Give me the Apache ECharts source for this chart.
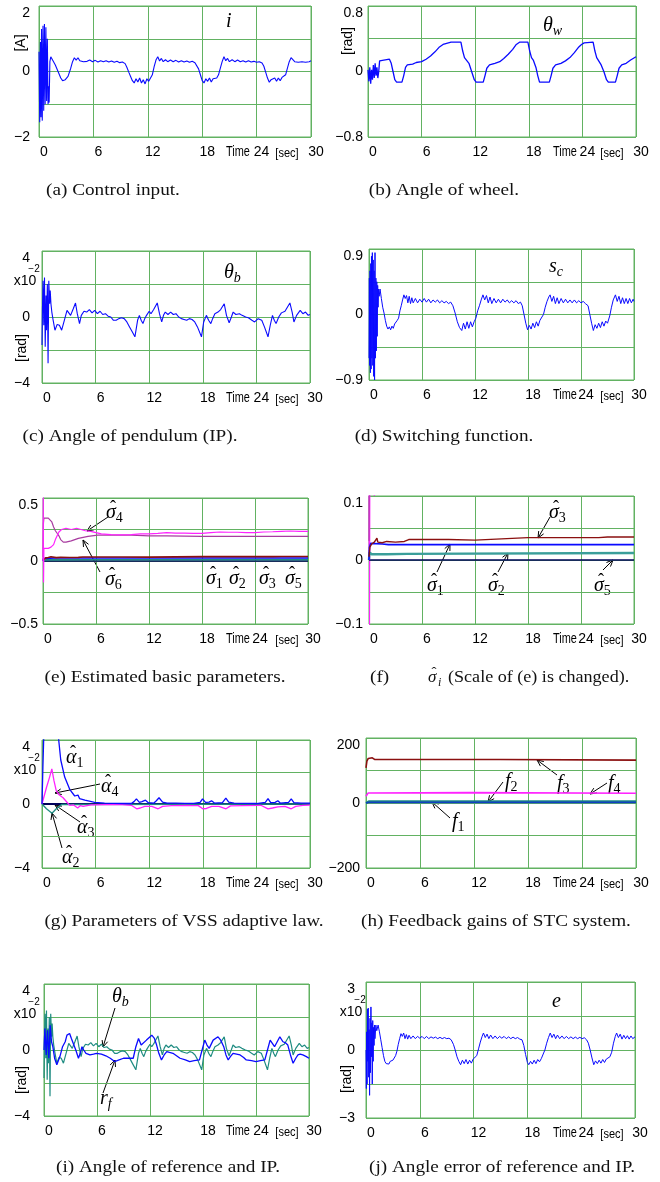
<!DOCTYPE html>
<html><head><meta charset="utf-8">
<script src="https://cdn.jsdelivr.net/npm/echarts@6/dist/echarts.min.js"></script>
<style>html,body{margin:0;padding:0;background:#fff}#c{width:660px;height:1182px}</style>
</head><body><div id="c"></div>
<script>
// ---------------- data (time [s], value) ----------------
const xTickLabels = ['0','6','12','18','24','30'];
const yLabA = ['2','0','\u22122'];
const yLabB = ['0.8','0','\u22120.8'];
const yLabC = ['4','0','\u22124'];
const yLabD = ['0.9','0','\u22120.9'];
const yLabE = ['0.5','0','\u22120.5'];
const yLabF = ['0.1','0','\u22120.1'];
const yLabG = ['4','0','\u22124'];
const yLabH = ['200','0','\u2212200'];
const yLabI = ['4','0','\u22124'];
const yLabJ = ['3','0','\u22123'];
const yLimits = [[-2,2,1],[-0.8,0.8,0.4],[-4,4,2],[-0.9,0.9,0.45],[-0.5,0.5,0.25],[-0.1,0.1,0.05],[-4,4,2],[-200,200,100],[-4,4,2],[-3,3,1.5]];

// (a) control input i [A]
const iA = [[0,0.6],[0.08,-1.55],[0.16,0.9],[0.22,-1.4],[0.28,1.3],[0.36,-1.5],[0.44,1.4],[0.52,-1.2],[0.6,1.45],[0.68,-1.0],[0.76,1.35],[0.84,-0.9],[0.92,1.0],[1.0,-1.0],[1.06,-0.45],[1.12,-0.95],[1.2,0.3],[1.3,0.45],[1.5,0.4],[1.8,0.2],[2.1,0.0],[2.4,-0.2],[2.6,-0.28],[2.9,-0.25],[3.2,-0.15],[3.5,0.1],[3.7,0.3],[3.9,0.42],[4.1,0.35],[4.3,0.42],[4.5,0.33],[4.7,0.38],[4.9,0.3],[5.1,0.36],[5.3,0.31],[5.6,0.35],[5.9,0.3],[6.2,0.34],[6.5,0.29],[6.8,0.33],[7.1,0.3],[7.4,0.33],[7.7,0.29],[8.0,0.32],[8.3,0.28],[8.6,0.31],[8.9,0.27],[9.2,0.29],[9.5,0.24],[9.7,0.12],[9.9,-0.02],[10.1,-0.15],[10.3,-0.28],[10.5,-0.35],[10.7,-0.22],[10.9,-0.32],[11.1,-0.2],[11.3,-0.35],[11.5,-0.25],[11.7,-0.38],[11.9,-0.22],[12.1,-0.3],[12.3,-0.25],[12.5,-0.1],[12.7,0.15],[12.9,0.35],[13.1,0.45],[13.3,0.32],[13.5,0.4],[13.7,0.3],[13.95,0.36],[14.2,0.3],[14.5,0.35],[14.8,0.3],[15.1,0.34],[15.4,0.29],[15.7,0.33],[16.0,0.29],[16.3,0.32],[16.6,0.28],[16.9,0.31],[17.2,0.27],[17.4,0.22],[17.6,0.08],[17.8,-0.1],[18.0,-0.28],[18.2,-0.35],[18.4,-0.22],[18.6,-0.3],[18.8,-0.2],[19.0,-0.32],[19.2,-0.22],[19.4,-0.28],[19.6,-0.2],[19.8,-0.1],[20.0,0.1],[20.2,0.3],[20.4,0.45],[20.6,0.33],[20.8,0.4],[21.0,0.3],[21.3,0.36],[21.6,0.3],[21.9,0.35],[22.2,0.3],[22.5,0.33],[22.8,0.29],[23.1,0.33],[23.4,0.29],[23.7,0.31],[24.0,0.28],[24.3,0.3],[24.6,0.26],[24.8,0.16],[25.0,-0.02],[25.2,-0.2],[25.4,-0.33],[25.6,-0.25],[25.8,-0.3],[26.0,-0.2],[26.2,-0.3],[26.4,-0.2],[26.6,-0.28],[26.8,-0.18],[27.0,-0.22],[27.2,-0.1],[27.4,0.1],[27.6,0.3],[27.8,0.42],[28.0,0.38],[28.2,0.3],[28.4,0.36],[28.6,0.28],[28.8,0.34],[29.0,0.3],[29.2,0.36],[29.4,0.28],[29.6,0.34],[29.8,0.3],[30,0.33]];

// (b) wheel angle theta_w [rad]
const thetaW = [[0,0.02],[0.1,-0.12],[0.2,0.05],[0.3,-0.15],[0.4,0.02],[0.5,-0.1],[0.6,0.08],[0.7,-0.08],[0.8,0.1],[0.9,-0.05],[1.0,0.05],[1.1,-0.08],[1.2,0.0],[1.3,0.13],[1.5,0.15],[2.4,0.15],[2.6,0.1],[2.8,0.0],[3.0,-0.1],[3.2,-0.13],[3.8,-0.13],[4.0,-0.05],[4.2,0.05],[4.4,0.08],[5.0,0.09],[5.4,0.11],[6.0,0.12],[6.5,0.15],[7.0,0.19],[7.5,0.24],[8.0,0.3],[8.4,0.33],[9.0,0.35],[9.3,0.36],[10.4,0.36],[10.6,0.25],[10.8,0.17],[11.0,0.15],[11.3,0.1],[11.6,0.0],[11.9,-0.1],[12.1,-0.13],[12.9,-0.13],[13.1,-0.05],[13.3,0.04],[13.6,0.08],[14.2,0.1],[14.75,0.12],[15.2,0.16],[15.7,0.21],[16.2,0.27],[16.6,0.33],[17.0,0.36],[17.9,0.36],[18.1,0.25],[18.3,0.17],[18.5,0.14],[18.8,0.05],[19.0,-0.05],[19.2,-0.13],[20.3,-0.13],[20.5,-0.05],[20.7,0.04],[21.0,0.08],[21.6,0.1],[22.1,0.13],[22.6,0.17],[23.1,0.23],[23.6,0.3],[23.9,0.33],[24.2,0.35],[24.4,0.36],[25.2,0.36],[25.4,0.25],[25.6,0.17],[25.8,0.15],[26.1,0.08],[26.4,0.0],[26.7,-0.1],[26.9,-0.13],[27.7,-0.13],[27.9,-0.05],[28.1,0.04],[28.4,0.08],[28.9,0.1],[29.4,0.14],[30,0.18]];

// (c)/(i) pendulum angle theta_b [x10^-2 rad]
const thetaB = [[0,-1.7],[0.05,0.5],[0.12,2.2],[0.2,-0.5],[0.28,2.4],[0.36,-1.8],[0.45,1.3],[0.5,-0.8],[0.6,2.0],[0.68,-2.8],[0.76,2.2],[0.85,0.8],[0.92,1.6],[1.0,0.8],[1.1,0.3],[1.25,-0.2],[1.45,-0.8],[1.7,-0.45],[1.95,-0.5],[2.2,-0.8],[2.5,-0.2],[2.8,0.4],[3.0,0.3],[3.2,0.1],[3.5,0.5],[3.75,0.85],[3.95,0.2],[4.2,-0.4],[4.4,0.1],[4.7,0.35],[5.0,0.3],[5.3,0.45],[5.6,0.25],[5.9,0.4],[6.2,0.2],[6.5,0.35],[6.8,0.15],[7.1,0.2],[7.4,0.05],[7.7,0.0],[8.0,-0.2],[8.3,-0.2],[8.6,-0.1],[8.9,-0.05],[9.2,-0.1],[9.5,-0.3],[9.8,-0.6],[10.1,-0.9],[10.4,-1.2],[10.7,-0.2],[10.9,0.1],[11.1,-0.2],[11.3,-0.4],[11.5,-0.1],[11.7,0.1],[12.0,0.35],[12.2,0.2],[12.5,0.45],[12.9,0.85],[13.15,0.2],[13.4,-0.3],[13.6,0.1],[13.8,0.3],[14.1,0.15],[14.4,0.3],[14.7,0.15],[15.0,0.2],[15.3,0.0],[15.6,-0.1],[15.9,-0.15],[16.2,-0.2],[16.5,-0.1],[16.8,-0.15],[17.1,-0.3],[17.4,-0.6],[17.85,-1.2],[18.1,-0.3],[18.4,0.1],[18.65,-0.2],[18.9,-0.4],[19.1,-0.1],[19.35,0.2],[19.7,0.3],[20.0,0.45],[20.4,0.8],[20.65,0.1],[20.95,-0.35],[21.2,0.0],[21.4,0.3],[21.7,0.15],[22.1,0.2],[22.4,0.1],[22.8,0.0],[23.1,-0.05],[23.5,-0.2],[23.8,-0.3],[24.2,-0.1],[24.6,-0.2],[24.9,-0.6],[25.3,-1.2],[25.55,-0.5],[25.8,0.1],[26.0,-0.2],[26.2,-0.4],[26.5,0.0],[26.8,0.25],[27.2,0.35],[27.75,0.85],[28.0,0.3],[28.2,-0.3],[28.5,0.1],[28.9,0.4],[29.2,0.2],[29.5,0.3],[29.8,0.1],[30,0.15]];

// (d) switching function s_c
const sC = [[0,-0.6],[0.04,0.5],[0.08,-0.7],[0.12,0.6],[0.16,-0.8],[0.2,0.7],[0.24,-0.75],[0.28,0.8],[0.33,-0.6],[0.38,0.85],[0.43,-0.7],[0.48,0.75],[0.53,-0.85],[0.58,0.6],[0.63,-0.9],[0.68,0.85],[0.73,-0.6],[0.78,0.5],[0.83,-0.5],[0.88,0.45],[0.93,-0.3],[0.98,0.4],[1.03,0.1],[1.08,0.35],[1.15,0.25],[1.25,0.35],[1.4,0.22],[1.55,0.1],[1.7,0.02],[1.85,-0.08],[2.0,-0.16],[2.15,-0.2],[2.3,-0.17],[2.45,-0.21],[2.6,-0.16],[2.75,-0.19],[2.9,-0.13],[3.05,-0.14],[3.2,-0.08],[3.35,-0.05],[3.5,0.05],[3.65,0.12],[3.8,0.2],[3.95,0.27],[4.1,0.22],[4.25,0.26],[4.4,0.16],[4.55,0.25],[4.7,0.15],[4.85,0.23],[5.0,0.16],[5.25,0.22],[5.5,0.16],[5.75,0.21],[6.0,0.17],[6.25,0.22],[6.5,0.17],[6.75,0.21],[7.0,0.16],[7.25,0.2],[7.5,0.17],[7.75,0.2],[8.0,0.16],[8.25,0.19],[8.5,0.16],[8.75,0.18],[9.0,0.15],[9.25,0.17],[9.5,0.12],[9.75,0.02],[10.0,-0.1],[10.25,-0.18],[10.5,-0.22],[10.7,-0.12],[10.9,-0.2],[11.1,-0.1],[11.3,-0.19],[11.5,-0.1],[11.7,-0.17],[11.9,-0.1],[12.1,-0.05],[12.3,0.05],[12.5,0.12],[12.7,0.2],[12.9,0.27],[13.1,0.2],[13.3,0.26],[13.5,0.16],[13.7,0.24],[13.9,0.15],[14.15,0.22],[14.4,0.16],[14.65,0.21],[14.9,0.16],[15.15,0.21],[15.4,0.17],[15.65,0.2],[15.9,0.16],[16.15,0.19],[16.4,0.16],[16.65,0.19],[16.9,0.15],[17.15,0.17],[17.35,0.12],[17.55,0.0],[17.75,-0.12],[17.95,-0.21],[18.15,-0.15],[18.35,-0.2],[18.55,-0.12],[18.75,-0.18],[18.95,-0.1],[19.15,-0.16],[19.35,-0.08],[19.55,-0.1],[19.75,0.0],[19.95,0.1],[20.15,0.18],[20.35,0.24],[20.5,0.27],[20.7,0.18],[20.9,0.25],[21.1,0.15],[21.3,0.23],[21.5,0.15],[21.75,0.22],[22.0,0.16],[22.25,0.21],[22.5,0.16],[22.75,0.2],[23.0,0.16],[23.25,0.2],[23.5,0.16],[23.75,0.19],[24.0,0.16],[24.25,0.18],[24.5,0.15],[24.8,0.12],[25.0,0.0],[25.2,-0.12],[25.4,-0.22],[25.6,-0.14],[25.8,-0.19],[26.0,-0.12],[26.2,-0.18],[26.4,-0.1],[26.6,-0.16],[26.8,-0.09],[27.0,-0.12],[27.25,-0.02],[27.45,0.1],[27.65,0.2],[27.9,0.27],[28.1,0.18],[28.3,0.25],[28.5,0.15],[28.7,0.23],[28.9,0.15],[29.1,0.22],[29.3,0.15],[29.5,0.22],[29.7,0.16],[29.9,0.21],[30,0.18]];

// (e)/(f) estimated basic parameters sigma_1..sigma_6
const sigma1 = [[0,0],[0.05,0.02],[0.2,0.026],[1.5,0.025],[2.2,0.024],[30,0.024]];
const sigma2 = [[0,0],[0.05,0.012],[0.3,0.009],[2.0,0.009],[4.3,0.0095],[4.5,0.011],[30,0.011]];
const sigma3 = [[0,0.005],[0.1,0.02],[0.3,0.025],[0.6,0.028],[0.8,0.03],[0.9,0.034],[1.0,0.028],[1.5,0.027],[2.0,0.029],[3.0,0.028],[4.0,0.029],[4.5,0.032],[6.0,0.032],[9.0,0.032],[12.0,0.031],[15.0,0.033],[18.0,0.035],[22.0,0.035],[26.0,0.035],[27.0,0.036],[30,0.036]];
const sigma4 = [[0,0],[0.03,0.52],[0.06,-0.17],[0.1,0.1],[0.3,0.11],[0.6,0.1],[0.9,0.11],[1.2,0.13],[1.4,0.17],[1.6,0.2],[1.8,0.23],[2.1,0.25],[2.6,0.26],[3.2,0.25],[3.8,0.26],[4.3,0.25],[4.8,0.24],[5.4,0.235],[6.0,0.225],[6.6,0.215],[7.7,0.21],[9.0,0.208],[10.0,0.21],[11.0,0.215],[12.0,0.216],[13.0,0.22],[14.0,0.225],[15.0,0.222],[16.0,0.222],[17.0,0.22],[18.0,0.22],[19.0,0.225],[20.0,0.23],[21.0,0.228],[22.0,0.228],[23.0,0.225],[24.0,0.225],[25.0,0.23],[26.0,0.232],[27.0,0.235],[28.0,0.238],[29.0,0.235],[30,0.235]];
const sigma5 = [[0,0],[30,0]];
const sigma6 = [[0,0.03],[0.05,0.3],[0.1,0.34],[0.3,0.35],[0.6,0.34],[0.8,0.33],[1.0,0.31],[1.2,0.27],[1.4,0.24],[1.6,0.22],[1.8,0.2],[2.0,0.17],[2.3,0.15],[2.6,0.15],[3.2,0.16],[4.0,0.18],[5.1,0.195],[6.2,0.205],[8.0,0.205],[10.0,0.205],[12.0,0.2],[14.0,0.2],[16.0,0.198],[18.0,0.195],[30,0.195]];

// (g) VSS adaptive law parameters alpha_1..alpha_4 [x10^-2]
const alpha1 = [[0,0],[0.1,2.3],[0.2,4.3],[0.4,7],[1.0,9],[1.5,7],[1.87,4.0],[2.1,2.75],[2.54,1.68],[3.1,0.92],[3.66,0.5],[4.03,0.56],[4.2,0.34],[4.8,0.24],[5.9,0.1],[7,0.06],[8,0.04],[9,0.03],[10,0.03],[10.3,0.15],[10.57,0.32],[10.9,0.1],[11.2,0.15],[11.58,0.24],[11.9,0.08],[12.5,0.05],[12.8,0.2],[13.1,0.39],[13.5,0.12],[14,0.06],[15,0.05],[16,0.04],[17,0.04],[17.7,0.1],[17.97,0.32],[18.3,0.1],[18.7,0.12],[18.98,0.2],[19.3,0.06],[20.2,0.08],[20.58,0.37],[20.9,0.12],[21.5,0.06],[23,0.04],[24,0.03],[25,0.1],[25.3,0.33],[25.6,0.08],[26.1,0.1],[26.4,0.2],[26.7,0.05],[27.6,0.1],[27.9,0.32],[28.2,0.08],[29,0.05],[30,0.05]];
const alpha2 = [[0,0],[0.5,-0.3],[1.12,-0.58],[1.6,-0.3],[2.2,-0.03],[2.4,0],[30,0]];
const alpha3 = [[0,0],[30,0]];
const alpha4 = [[0,0],[0.5,1.03],[0.85,1.68],[1.1,2.2],[1.34,1.46],[1.6,0.82],[1.87,0.6],[2.36,0.39],[2.7,0.17],[3.1,-0.09],[3.5,-0.05],[4.0,-0.25],[4.3,-0.1],[4.6,-0.15],[5.5,-0.06],[7,-0.04],[9,-0.04],[10,-0.08],[10.6,-0.3],[11.0,-0.25],[11.5,-0.15],[12.3,-0.15],[13.0,-0.3],[13.5,-0.15],[14.5,-0.1],[16,-0.08],[17.5,-0.1],[18.0,-0.3],[18.4,-0.28],[19.0,-0.15],[19.8,-0.15],[20.6,-0.3],[21.1,-0.12],[22.5,-0.1],[24.5,-0.08],[25.3,-0.3],[25.8,-0.25],[26.4,-0.18],[27.2,-0.15],[27.9,-0.3],[28.4,-0.15],[29.2,-0.08],[30,-0.07]];

// (h) feedback gains f1..f4
const gainF1 = [[0,0],[0.3,2],[30,2]];
const gainF2 = [[0,0],[0.3,4.5],[30,4.5]];
const gainF3 = [[0,108],[0.1,129],[0.25,137],[0.45,139],[0.7,139],[0.95,134],[14.9,134],[15.0,132],[30,132]];
const gainF4 = [[0,20.6],[0.25,31],[11.6,32],[11.7,30],[30,30]];

// (i) reference r_f [x10^-2 rad]
const refRf = [[0,0],[0.1,1.3],[0.25,-0.3],[0.4,1.2],[0.55,-0.5],[0.7,1.5],[0.85,0.5],[1.0,0.2],[1.2,-0.5],[1.45,-0.9],[1.8,-0.4],[2.1,0.2],[2.4,0.5],[2.6,0.9],[2.9,1.0],[3.1,0.7],[3.3,0.6],[3.6,0.0],[3.9,-0.5],[4.1,-0.2],[4.3,0.2],[4.5,0.0],[4.75,-0.2],[5.2,-0.3],[5.6,-0.25],[5.95,-0.2],[6.5,-0.25],[7.0,-0.35],[7.5,-0.5],[8.0,-0.7],[8.5,-0.6],[9.0,-0.5],[9.5,-0.5],[10.1,-0.5],[10.4,0.2],[10.7,0.7],[11.0,0.3],[11.2,0.2],[11.6,0.6],[12.2,0.9],[12.5,0.7],[12.75,0.3],[13.0,-0.2],[13.3,-0.6],[13.6,-0.3],[13.9,-0.1],[14.2,-0.15],[14.6,-0.2],[15.0,-0.35],[15.4,-0.5],[16.0,-0.6],[16.5,-0.7],[17.0,-0.65],[17.6,-0.6],[17.9,0.0],[18.2,0.6],[18.45,0.3],[18.7,0.1],[19.15,0.6],[19.7,0.8],[20.0,0.6],[20.35,0.2],[20.6,-0.3],[20.85,-0.6],[21.1,-0.4],[21.4,-0.2],[21.8,-0.25],[22.2,-0.3],[22.6,-0.45],[22.9,-0.6],[23.5,-0.65],[24.0,-0.7],[24.5,-0.65],[25.0,-0.6],[25.3,0.0],[25.6,0.6],[25.85,0.4],[26.1,0.2],[26.4,0.5],[26.7,0.8],[27.05,0.5],[27.3,0.45],[27.6,0.3],[27.9,-0.3],[28.2,-0.8],[28.5,-0.5],[28.75,-0.3],[29.0,-0.25],[29.3,-0.3],[29.7,-0.4],[30,-0.5]];

// (j) angle error e [x10^-2 rad]
const errE = [[0,0],[0.04,-1.7],[0.08,0.8],[0.12,-1.5],[0.16,1.8],[0.2,-0.5],[0.25,1.85],[0.3,-1.2],[0.35,0.9],[0.4,-2.0],[0.45,1.4],[0.5,-1.0],[0.55,1.9],[0.6,-0.3],[0.65,1.2],[0.7,-1.5],[0.75,1.3],[0.8,-0.5],[0.85,1.0],[0.9,0.2],[0.95,1.1],[1.0,0.5],[1.1,1.1],[1.2,0.85],[1.35,1.1],[1.5,0.8],[1.65,0.45],[1.8,0.1],[1.95,-0.25],[2.1,-0.5],[2.25,-0.6],[2.4,-0.52],[2.55,-0.62],[2.7,-0.5],[2.85,-0.55],[3.0,-0.45],[3.15,-0.42],[3.3,-0.25],[3.45,-0.05],[3.6,0.25],[3.75,0.5],[3.9,0.72],[4.05,0.6],[4.2,0.75],[4.35,0.5],[4.5,0.68],[4.65,0.48],[4.8,0.65],[5.0,0.5],[5.25,0.62],[5.5,0.5],[5.75,0.6],[6.0,0.52],[6.25,0.6],[6.5,0.5],[6.75,0.6],[7.0,0.5],[7.25,0.58],[7.5,0.52],[7.75,0.57],[8.0,0.5],[8.25,0.56],[8.5,0.5],[8.75,0.55],[9.0,0.5],[9.25,0.52],[9.5,0.45],[9.75,0.25],[9.95,0.0],[10.15,-0.3],[10.35,-0.5],[10.55,-0.65],[10.75,-0.45],[10.95,-0.6],[11.15,-0.42],[11.35,-0.62],[11.55,-0.45],[11.75,-0.58],[11.95,-0.4],[12.15,-0.48],[12.35,-0.25],[12.55,0.05],[12.75,0.35],[12.95,0.6],[13.1,0.75],[13.3,0.55],[13.5,0.7],[13.7,0.5],[13.9,0.66],[14.15,0.5],[14.4,0.62],[14.65,0.5],[14.9,0.6],[15.15,0.52],[15.4,0.6],[15.65,0.5],[15.9,0.58],[16.15,0.5],[16.4,0.57],[16.65,0.5],[16.9,0.55],[17.15,0.48],[17.4,0.45],[17.6,0.2],[17.8,-0.2],[18.0,-0.55],[18.15,-0.65],[18.35,-0.5],[18.55,-0.62],[18.75,-0.45],[18.95,-0.6],[19.15,-0.42],[19.35,-0.52],[19.55,-0.38],[19.75,-0.3],[19.95,0.0],[20.15,0.3],[20.35,0.55],[20.55,0.75],[20.75,0.55],[20.95,0.7],[21.15,0.5],[21.35,0.66],[21.6,0.5],[21.85,0.62],[22.1,0.5],[22.35,0.6],[22.6,0.5],[22.85,0.58],[23.1,0.5],[23.35,0.57],[23.6,0.5],[23.85,0.56],[24.1,0.5],[24.35,0.54],[24.6,0.45],[24.8,0.3],[25.0,0.0],[25.2,-0.35],[25.4,-0.65],[25.6,-0.48],[25.8,-0.6],[26.0,-0.45],[26.2,-0.58],[26.4,-0.42],[26.6,-0.55],[26.8,-0.4],[27.0,-0.45],[27.2,-0.3],[27.4,-0.1],[27.6,0.3],[27.8,0.6],[27.95,0.75],[28.15,0.55],[28.35,0.7],[28.55,0.48],[28.75,0.65],[28.95,0.5],[29.15,0.63],[29.35,0.48],[29.55,0.62],[29.75,0.5],[30,0.58]];

const captions = ['(a) Control input.','(b) Angle of wheel.','(c) Angle of pendulum (IP).','(d) Switching function.','(e) Estimated basic parameters.','(f)','(g) Parameters of VSS adaptive law.','(h) Feedback gains of STC system.','(i) Angle of reference and IP.','(j) Angle error of reference and IP.'];

// ---------------- layout & style ----------------
const LAYOUT = [
 {l:39,t:6,w:272,h:131,lm:9},
 {l:368,t:6,w:268,h:131,lm:5},
 {l:42,t:251,w:268,h:132,lm:12},
 {l:369,t:249,w:265,h:131,lm:6},
 {l:43,t:498,w:265,h:126,lm:5},
 {l:369,t:496,w:265,h:128,lm:6},
 {l:42,t:740,w:268,h:128,lm:12},
 {l:366,t:738,w:270,h:130,lm:6},
 {l:44,t:984,w:265,h:132,lm:14},
 {l:366,t:982,w:269,h:136,lm:11}
];
const yLabs = [yLabA,yLabB,yLabC,yLabD,yLabE,yLabF,yLabG,yLabH,yLabI,yLabJ];
const GRN = '#62b262';
const TICKF = "'Liberation Sans Narrow','Liberation Sans',Arial,sans-serif";
const SERIF = "'Liberation Serif','Times New Roman',serif";
const BLUE = '#0a0aff', TEAL = '#1f8c82', MAG = '#ff22ff', PURP = '#a83ca0', DRED = '#8b1010', NAVY = '#00005a';

const grids = LAYOUT.map(p => ({left:p.l, top:p.t, width:p.w, height:p.h, show:true, borderColor:GRN, borderWidth:1, containLabel:false}));
const xAxes = LAYOUT.map((p,i) => ({gridIndex:i, type:'value', min:0, max:30, interval:6,
  axisLine:{show:false}, axisTick:{show:false},
  splitLine:{show:true, lineStyle:{color:GRN, width:1}},
  axisLabel:{margin:8, padding:[0,0,0,10], fontSize:14, fontFamily:TICKF, color:'#000',
    showMinLabel:true, showMaxLabel:true,
    formatter: v => xTickLabels[Math.round(v/6)]}}));
const yAxes = LAYOUT.map((p,i) => {
  const [mn,mx,st] = yLimits[i]; const labs = yLabs[i];
  return {gridIndex:i, type:'value', min:mn, max:mx, interval:st,
    axisLine:{show:false}, axisTick:{show:false},
    splitLine:{show:true, lineStyle:{color:GRN, width:1}},
    axisLabel:{margin:p.lm, fontSize:14, fontFamily:TICKF, color:'#000', showMinLabel:true, showMaxLabel:true,
      rich:{top:{fontSize:14, fontFamily:TICKF, color:'#000', padding:[14,0,0,0]}},
      formatter: v => {
        const e = st*1e-6;
        if (Math.abs(v-mx) < e) return '{top|' + labs[0] + '}';
        if (Math.abs(v) < e) return labs[1];
        if (Math.abs(v-mn) < e) return labs[2];
        return '';
      }}};
});

function line(gi, data, color, width, z) {
  return {type:'line', xAxisIndex:gi, yAxisIndex:gi, data:data, symbol:'none', showSymbol:false,
    lineStyle:{color:color, width:width}, itemStyle:{color:color}, z:z||2, silent:true, clip:true, animation:false};
}
const series = [
  line(0, iA, BLUE, 1.1),
  line(1, thetaW, BLUE, 1.3),
  line(2, thetaB, BLUE, 1.1),
  line(3, sC, BLUE, 1.0),
  line(4, sigma5, NAVY, 1.6), line(4, sigma2, TEAL, 1.6), line(4, sigma1, BLUE, 1.6), line(4, sigma3, DRED, 1.6),
  line(4, sigma6, PURP, 1.2), line(4, sigma4, MAG, 1.2),
  line(5, sigma4, MAG, 1.0), line(5, sigma6, PURP, 1.0),
  line(5, sigma5, NAVY, 1.3), line(5, sigma2, '#3a9e9a', 2.4), line(5, sigma1, BLUE, 1.6), line(5, sigma3, DRED, 1.4),
  line(6, alpha3, NAVY, 1.8), line(6, alpha2, TEAL, 1.3), line(6, alpha4, MAG, 1.3), line(6, alpha1, BLUE, 1.3),
  line(7, gainF3, DRED, 1.6), line(7, gainF4, MAG, 1.6), line(7, gainF2, TEAL, 2.4), line(7, gainF1, '#1040c0', 1.6),
  line(8, thetaB, TEAL, 1.2), line(8, refRf, BLUE, 1.3),
  line(9, errE, BLUE, 1.0)
];

// ---------------- annotations ----------------
const RICH = {
  m:{fontFamily:SERIF, fontStyle:'italic', fontSize:20, lineHeight:24, color:'#000'},
  si:{fontFamily:SERIF, fontStyle:'italic', fontSize:14, lineHeight:12, verticalAlign:'bottom', color:'#000'},
  sd:{fontFamily:SERIF, fontSize:14, lineHeight:12, verticalAlign:'bottom', color:'#000'}
};
// [x, y, symbol, subscript, italicSub, hat]
const mathLabels = [
  [226,22,'i','',0,0],
  [543,26,'θ','w',1,0],
  [224,273,'θ','b',1,0],
  [549,267,'s','c',1,0],
  [106,513,'σ','4',0,1],[105,580,'σ','6',0,1],
  [206,579,'σ','1',0,1],[229,579,'σ','2',0,1],[259,579,'σ','3',0,1],[285,579,'σ','5',0,1],
  [549,513,'σ','3',0,1],[427,586,'σ','1',0,1],[488,586,'σ','2',0,1],[594,586,'σ','5',0,1],
  [66,758,'α','1',0,1],[101,787,'α','4',0,1],[77,828,'α','3',0,1],[62,858,'α','2',0,1],
  [505,782,'f','2',0,0],[557,784,'f','3',0,0],[608,784,'f','4',0,0],[452,822,'f','1',0,0],
  [112,997,'θ','b',1,0],[100,1099,'r','f',1,0],
  [552,1002,'e','',0,0]
];
const arrows = [
  [108,517,87,531],[100,572,83,540],
  [550,517,538,538],[437,572,450,544],[498,572,508,553],[603,570,613,560],
  [100,784,55,793],[80,822,55,805],[62,848,52,813],
  [503,782,488,802],[557,775,537,760],[607,783,590,794],[450,818,432,802],
  [115,1008,103,1047],[103,1093,115,1060]
];
const captionCenters = [[113,191],[444,191],[130,437],[444,437],[165,678],[505,678],[184,922],[496,922],[168,1168],[502,1168]];
const HAT = '\u02C6';

const graphic = [];
mathLabels.forEach(([x,y,s,sub,it,hat]) => {
  const t = '{m|' + s + '}' + (sub ? '{' + (it ? 'si' : 'sd') + '|' + sub + '}' : '');
  graphic.push({type:'text', x:x, y:y, silent:true, style:{text:t, rich:RICH, align:'left', verticalAlign:'middle'}});
  if (hat) graphic.push({type:'text', x:x+7, y:y-5, silent:true,
    style:{text:HAT, font:"18px "+SERIF, fill:'#000', align:'center', verticalAlign:'middle'}});
});
arrows.forEach(([x1,y1,x2,y2]) => {
  const a = Math.atan2(y2-y1, x2-x1), L = 7, w = 0.42;
  graphic.push({type:'line', silent:true, shape:{x1,y1,x2,y2}, style:{stroke:'#000', lineWidth:1}});
  graphic.push({type:'polyline', silent:true, shape:{points:[[x2-L*Math.cos(a-w), y2-L*Math.sin(a-w)],[x2,y2],[x2-L*Math.cos(a+w), y2-L*Math.sin(a+w)]]},
    style:{stroke:'#000', lineWidth:1, fill:null}});
});
const CAPF = "16px " + SERIF;
captions.forEach((c,i) => {
  const [x,y] = captionCenters[i];
  if (i === 5) {
    graphic.push({type:'text', x:370, y:y, silent:true, style:{text:'(f)', font:CAPF, fill:'#111', align:'left', verticalAlign:'middle'}, scaleX:1.2});
    graphic.push({type:'text', x:428, y:y, silent:true, style:{text:'σ', font:"italic 17px "+SERIF, fill:'#111', align:'left', verticalAlign:'middle'}});
    graphic.push({type:'text', x:434, y:y-5, silent:true, style:{text:HAT, font:"15px "+SERIF, fill:'#111', align:'center', verticalAlign:'middle'}});
    graphic.push({type:'text', x:438, y:y+5, silent:true, style:{text:'i', font:"italic 12px "+SERIF, fill:'#111', align:'left', verticalAlign:'middle'}});
    graphic.push({type:'text', x:448, y:y, silent:true, style:{text:'(Scale of (e) is changed).', font:CAPF, fill:'#111', align:'left', verticalAlign:'middle'}, scaleX:1.13});
  } else {
    graphic.push({type:'text', x:x, y:y, silent:true, scaleX:1.2,
      style:{text:c, font:CAPF, fill:'#111', align:'center', verticalAlign:'middle'}});
  }
});
LAYOUT.forEach((p,i) => {
  const left = i % 2 === 0;
  const yb = p.t + p.h + 15;
  graphic.push({type:'text', x: left ? 238 : 565, y: yb, silent:true, scaleX:0.78, style:{text:'Time', font:"14px "+TICKF, fill:'#000', align:'center', verticalAlign:'middle'}});
  graphic.push({type:'text', x: left ? 287 : 612, y: yb+1, silent:true, scaleX:0.85, style:{text:'[sec]', font:"13px "+TICKF, fill:'#000', align:'center', verticalAlign:'middle'}});
});
// unit labels (rotated) and exponent labels
const unitLabels = [[21,43,'[A]'],[348,41,'[rad]'],[22,348,'[rad]'],[22,1080,'[rad]'],[347,1079,'[rad]']];
unitLabels.forEach(([x,y,t]) => graphic.push({type:'text', x:x, y:y, rotation:Math.PI/2, silent:true,
  style:{text:t, font:"14px "+TICKF, fill:'#000', align:'center', verticalAlign:'middle'}}));
const expPanels = [2,6,8,9];
expPanels.forEach(i => {
  const p = LAYOUT[i];
  const xr = i % 2 === 0 ? 25 : 351;
  graphic.push({type:'text', x:xr, y:p.t+30, silent:true, style:{text:'x10', font:"14px "+TICKF, fill:'#000', align:'center', verticalAlign:'middle'}});
  graphic.push({type:'text', x:xr+9, y:p.t+18, silent:true, style:{text:'\u22122', font:"10px "+TICKF, fill:'#000', align:'center', verticalAlign:'middle'}});
});

const chart = echarts.init(document.getElementById('c'), null, {renderer:'canvas'});
chart.setOption({
  animation:false, backgroundColor:'#fff',
  grid:grids, xAxis:xAxes, yAxis:yAxes, series:series, graphic:graphic
});
</script></body></html>
